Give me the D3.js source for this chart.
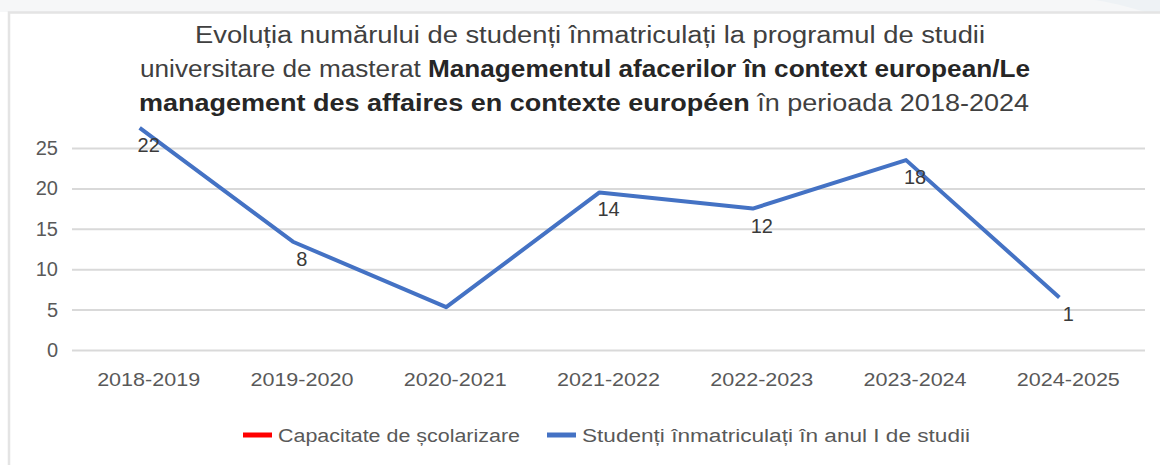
<!DOCTYPE html>
<html>
<head>
<meta charset="utf-8">
<script src="https://cdn.jsdelivr.net/npm/d3@7"></script>
<style>
  html, body { margin: 0; padding: 0; background: #ffffff; }
  svg { display: block; font-family: "Liberation Sans", Arial, sans-serif; }
</style>
</head>
<body>
<main></main>
<script>
// Data
const categories = ["2018-2019", "2019-2020", "2020-2021", "2021-2022", "2022-2023", "2023-2024", "2024-2025"];
const lineValues = [27.5, 13.4, 5.3, 19.5, 17.5, 23.5, 6.5];
const dataLabels = ["22", "8", null, "14", "12", "18", "1"];
const yTicks = [0, 5, 10, 15, 20, 25];
const legendItems = ["Capacitate de școlarizare", "Studenți înmatriculați în anul I de studii"];
const legendColors = ["#ff0000", "#4472c4"];

const WIDTH = 1160;
const HEIGHT = 465;
const LINE_SHIFT = -9;   // the line sits a little left of the category centres

function drawChart () {
    var svg = d3.select("main").append("svg")
                .attr("width", WIDTH)
                .attr("height", HEIGHT);

    // page strip above the chart box
    svg.append("rect").attr("x", 0).attr("y", 0).attr("width", WIDTH).attr("height", 12)
       .style("fill", "#f6f7f8");
    svg.append("path")
       .attr("d", "M1095,0 C1120,4 1135,9 1145,12 L1160,12 L1160,0 Z")
       .style("fill", "#eef2f5");

    // chart box
    svg.append("rect").attr("x", 9).attr("y", 12.5).attr("width", WIDTH).attr("height", HEIGHT)
       .style("fill", "#ffffff")
       .style("stroke", "#e4e4e4")
       .style("stroke-width", 2.5);

    // title
    var title = svg.append("text")
                   .attr("text-anchor", "middle")
                   .style("font-size", "23px")
                   .style("fill", "#404040");
    title.append("tspan").attr("x", 590).attr("y", 43)
         .attr("textLength", 790).attr("lengthAdjust", "spacingAndGlyphs")
         .text("Evoluția numărului de studenți înmatriculați la programul de studii");
    var l2 = title.append("tspan").attr("x", 585).attr("y", 77)
                  .attr("textLength", 890).attr("lengthAdjust", "spacingAndGlyphs");
    l2.append("tspan").text("universitare de masterat ");
    l2.append("tspan").style("font-weight", "bold").style("fill", "#262626")
      .text("Managementul afacerilor în context european/Le");
    var l3 = title.append("tspan").attr("x", 584).attr("y", 111)
                  .attr("textLength", 890).attr("lengthAdjust", "spacingAndGlyphs");
    l3.append("tspan").style("font-weight", "bold").style("fill", "#262626")
      .text("management des affaires en contexte européen");
    l3.append("tspan").text(" în perioada 2018-2024");

    var x = d3.scaleBand().domain(categories).range([72, 1145]);
    var y = d3.scaleLinear().domain([0, 25]).range([350, 148]);

    // gridlines + y labels
    var yAxis = svg.append("g")
                   .attr("transform", "translate(72,0)")
                   .call(d3.axisLeft(y).tickValues(yTicks).tickSize(-(1145 - 72)).tickPadding(14));
    yAxis.select(".domain").remove();
    yAxis.selectAll(".tick line").style("stroke", "#d9d9d9").style("stroke-width", 2);
    yAxis.selectAll(".tick text")
         .style("font-size", "20px")
         .style("fill", "#595959")
         .style("font-family", "\"Liberation Sans\", Arial, sans-serif");

    // x labels
    var xAxis = svg.append("g")
                   .attr("transform", "translate(0,350)")
                   .call(d3.axisBottom(x).tickSize(0).tickPadding(23));
    xAxis.select(".domain").remove();
    xAxis.selectAll(".tick text")
         .attr("textLength", 103)
         .attr("lengthAdjust", "spacingAndGlyphs")
         .style("font-size", "19px")
         .style("fill", "#595959")
         .style("font-family", "\"Liberation Sans\", Arial, sans-serif");

    // line
    var line = d3.line()
                 .x(function (d, i) { return x(categories[i]) + x.bandwidth() / 2 + LINE_SHIFT; })
                 .y(function (d) { return y(d); });
    svg.append("path")
       .datum(lineValues)
       .attr("d", line)
       .style("fill", "none")
       .style("stroke", "#4472c4")
       .style("stroke-width", 4)
       .style("stroke-linejoin", "round");

    // data labels
    var labelData = categories.map(function (c, i) {
        return { cat: c, value: lineValues[i], label: dataLabels[i] };
    }).filter(function (d) { return d.label !== null; });

    svg.append("g").selectAll("text")
       .data(labelData)
       .enter()
       .append("text")
       .attr("x", function (d) { return x(d.cat) + x.bandwidth() / 2; })
       .attr("y", function (d) { return y(d.value) + 24; })
       .attr("text-anchor", "middle")
       .style("font-size", "20px")
       .style("fill", "#3a3a3a")
       .text(function (d) { return d.label; });

    // legend
    var legend = svg.append("g");
    var lx = [243, 547];
    var lw = [242, 388];
    legendItems.forEach(function (name, i) {
        legend.append("line")
              .attr("x1", lx[i]).attr("x2", lx[i] + 29)
              .attr("y1", 435).attr("y2", 435)
              .style("stroke", legendColors[i])
              .style("stroke-width", 5);
        legend.append("text")
              .attr("x", lx[i] + 35).attr("y", 442)
              .attr("textLength", lw[i])
              .attr("lengthAdjust", "spacingAndGlyphs")
              .style("font-size", "18px")
              .style("fill", "#595959")
              .text(name);
    });
}

drawChart();
</script>
</body>
</html>
